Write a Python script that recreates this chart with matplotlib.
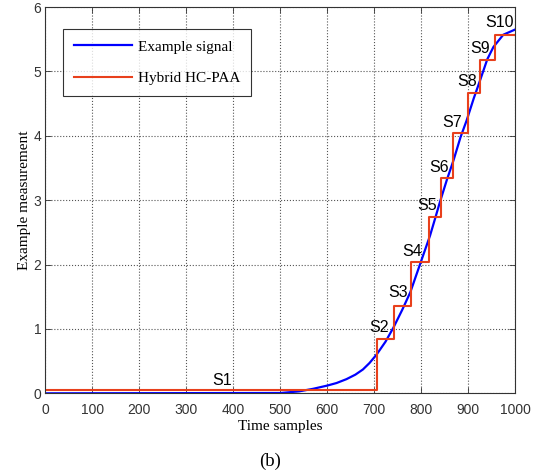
import matplotlib
matplotlib.use('Agg')
import matplotlib.pyplot as plt

# Señal de ejemplo
senal_x = [0, 500, 540, 570, 600, 620, 641, 660, 676, 690, 705, 724, 741, 760,
           777, 797, 819, 830, 840, 855, 869, 884, 897, 912, 925, 941, 954, 975, 1000]
senal_y = [0, 0.005, 0.03, 0.07, 0.12, 0.16, 0.22, 0.29, 0.37, 0.47, 0.6, 0.8,
           1.02, 1.3, 1.57, 1.99, 2.45, 2.72, 2.97, 3.32, 3.62, 3.98, 4.24, 4.58,
           4.85, 5.19, 5.38, 5.57, 5.65]

# Segmentos HC-PAA: bordes y niveles
bordes = [0, 705, 743, 778, 817, 842, 868, 900, 925, 957, 1000]
niveles = [0.05, 0.84, 1.36, 2.04, 2.74, 3.34, 4.04, 4.67, 5.17, 5.56]

etiquetas = ['S1', 'S2', 'S3', 'S4', 'S5', 'S6', 'S7', 'S8', 'S9', 'S10']
etiq_x = [376, 711, 751, 780, 812, 838, 867, 898, 925, 966]
etiq_y = [0.2, 1.03, 1.57, 2.21, 2.92, 3.5, 4.21, 4.85, 5.36, 5.76]

serif = 'Liberation Serif'
sans = 'Liberation Sans'

fig = plt.figure(figsize=(5.41, 4.76), dpi=100)
ax = fig.add_axes([0.084, 0.1737, 0.868, 0.8115])

ax.plot(senal_x, senal_y, color='#0000ff', lw=1.6, label='Example signal')
ax.step(bordes, niveles + [niveles[-1]], where='post', color='#e8401c', lw=1.5,
        label='Hybrid HC-PAA')

for t, x, y in zip(etiquetas, etiq_x, etiq_y):
    ax.text(x, y, t, ha='center', va='center', fontsize=11.5, family=sans)

ax.set_xlim(0, 1000)
ax.set_ylim(0, 6)
ax.set_xticks(range(0, 1001, 100))
ax.set_yticks(range(0, 7))
ax.grid(True, linestyle=':', color='#555555', lw=0.8)
ax.tick_params(direction='in', top=True, right=True, length=4, width=0.6,
               labelsize=10, colors='#333333')
ax.tick_params(axis='x', pad=7)
ax.tick_params(axis='y', pad=3)
for lab in ax.get_xticklabels() + ax.get_yticklabels():
    lab.set_family(sans)
for s in ax.spines.values():
    s.set_linewidth(0.8)
    s.set_color('#333333')

ax.set_xlabel('Time samples', family=serif, fontsize=11, labelpad=2)
ax.set_ylabel('Example measurement', family=serif, fontsize=11, labelpad=2)

leg = ax.legend(loc='upper left', bbox_to_anchor=(0.038, 0.943), fancybox=False,
                edgecolor='black', handlelength=3.8, handletextpad=0.35,
                borderpad=0.72, borderaxespad=0, labelspacing=1.15,
                prop={'family': serif, 'size': 11})
leg.get_frame().set_linewidth(0.8)

fig.text(0.5, 0.03, '(b)', ha='center', va='center', family=serif, fontsize=13.5)

fig.savefig('out.png', dpi=100)
